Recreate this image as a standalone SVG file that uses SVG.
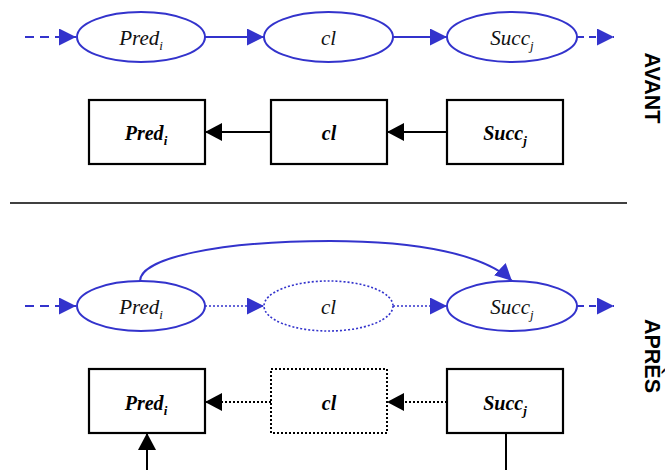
<svg xmlns="http://www.w3.org/2000/svg" width="665" height="470" viewBox="0 0 665 470">
<style>
.bl{fill:none;stroke:#3333cc;stroke-width:2}
.bld{fill:none;stroke:#3333cc;stroke-width:1.6;stroke-dasharray:2,2}
.bk{fill:none;stroke:#000;stroke-width:2}
.bkd{fill:none;stroke:#000;stroke-width:2;stroke-dasharray:2,2}
.ell{fill:#fff;stroke:#3333cc;stroke-width:2}
.elld{fill:#fff;stroke:#3333cc;stroke-width:1.6;stroke-dasharray:2,2}
.box{fill:#fff;stroke:#000;stroke-width:2.2}
.boxd{fill:#fff;stroke:#000;stroke-width:2;stroke-dasharray:2,2}
.lab{font-family:"Liberation Serif",serif;font-style:italic;font-size:21px;fill:#111;text-anchor:middle}
.labb{font-family:"Liberation Serif",serif;font-style:italic;font-weight:bold;font-size:20px;fill:#000;text-anchor:middle}
.sub{font-size:13px}
.side{font-family:"Liberation Sans",Arial,sans-serif;font-weight:bold;font-size:21.5px;fill:#000;text-anchor:middle}
</style>
<defs>
<marker id="ab" markerWidth="17" markerHeight="17" refX="17" refY="8.5" orient="auto" markerUnits="userSpaceOnUse" viewBox="0 0 17 17">
<path d="M0,0 L17,8.5 L0,17 Z" fill="#3333cc"/>
</marker>
<marker id="ak" markerWidth="17" markerHeight="18" refX="17" refY="9" orient="auto" markerUnits="userSpaceOnUse" viewBox="0 0 17 18">
<path d="M0,0 L17,9 L0,18 Z" fill="#000"/>
</marker>
</defs>

<g id="connectors">
<path class="bl" d="M25,37 L76,37" stroke-dasharray="9,6" marker-end="url(#ab)"/>
<path class="bl" d="M205,37 L264,37" marker-end="url(#ab)"/>
<path class="bl" d="M393,37 L447,37" marker-end="url(#ab)"/>
<path class="bl" d="M577,37 L614,37" stroke-dasharray="7,5" marker-end="url(#ab)"/>
<path class="bk" d="M271,132 L205,132" marker-end="url(#ak)"/>
<path class="bk" d="M447,132 L387,132" marker-end="url(#ak)"/>
<line x1="10" y1="203" x2="627" y2="203" stroke="#000" stroke-width="1.6"/>
<path class="bl" d="M25,306 L76,306" stroke-dasharray="9,6" marker-end="url(#ab)"/>
<path class="bld" d="M205,306 L264,306" marker-end="url(#ab)"/>
<path class="bld" d="M393,306 L447,306" marker-end="url(#ab)"/>
<path class="bl" d="M577,306 L614,306" stroke-dasharray="7,5" marker-end="url(#ab)"/>
<path class="bl" d="M140,281 C140,258 220,241 330,241 C420,241 485,255 512,281" marker-end="url(#ab)"/>
<path class="bkd" d="M271,402 L205,402" marker-end="url(#ak)"/>
<path class="bkd" d="M447,402 L387,402" marker-end="url(#ak)"/>
<path class="bk" d="M147,470 L147,433" marker-end="url(#ak)"/>
<line x1="506" y1="433" x2="506" y2="470" stroke="#000" stroke-width="2"/>
</g>

<g id="avant-pred-ellipse"><ellipse class="ell" cx="141" cy="37" rx="64" ry="25"/><text class="lab" x="141" y="45">Pred<tspan class="sub" dy="5">i</tspan></text></g>
<g id="avant-cl-ellipse"><ellipse class="ell" cx="328.5" cy="37" rx="64.5" ry="25"/><text class="lab" x="328.5" y="45">cl</text></g>
<g id="avant-succ-ellipse"><ellipse class="ell" cx="512" cy="37" rx="65" ry="25"/><text class="lab" x="512" y="45">Succ<tspan class="sub" dy="5">j</tspan></text></g>

<g id="avant-pred-box"><rect class="box" x="89" y="100" width="116" height="64"/><text class="labb" x="146" y="140">Pred<tspan class="sub" dy="5">i</tspan></text></g>
<g id="avant-cl-box"><rect class="box" x="271" y="100" width="116" height="64"/><text class="labb" x="329" y="140">cl</text></g>
<g id="avant-succ-box"><rect class="box" x="447" y="100" width="116" height="64"/><text class="labb" x="505" y="140">Succ<tspan class="sub" dy="5">j</tspan></text></g>

<g id="apres-pred-ellipse"><ellipse class="ell" cx="141" cy="306" rx="64" ry="25"/><text class="lab" x="141" y="314">Pred<tspan class="sub" dy="5">i</tspan></text></g>
<g id="apres-cl-ellipse"><ellipse class="elld" cx="328.5" cy="306" rx="64.5" ry="25"/><text class="lab" x="328.5" y="314">cl</text></g>
<g id="apres-succ-ellipse"><ellipse class="ell" cx="512" cy="306" rx="65" ry="25"/><text class="lab" x="512" y="314">Succ<tspan class="sub" dy="5">j</tspan></text></g>

<g id="apres-pred-box"><rect class="box" x="89" y="369" width="116" height="64"/><text class="labb" x="146" y="410">Pred<tspan class="sub" dy="5">i</tspan></text></g>
<g id="apres-cl-box"><rect class="boxd" x="271" y="369" width="116" height="64"/><text class="labb" x="329" y="410">cl</text></g>
<g id="apres-succ-box"><rect class="box" x="447" y="369" width="116" height="64"/><text class="labb" x="505" y="410">Succ<tspan class="sub" dy="5">j</tspan></text></g>

<g id="labels">
<text class="side" transform="translate(645,88) rotate(90)">AVANT</text>
<text class="side" transform="translate(645,356) rotate(90)">APRÈS</text>
</g>
</svg>
